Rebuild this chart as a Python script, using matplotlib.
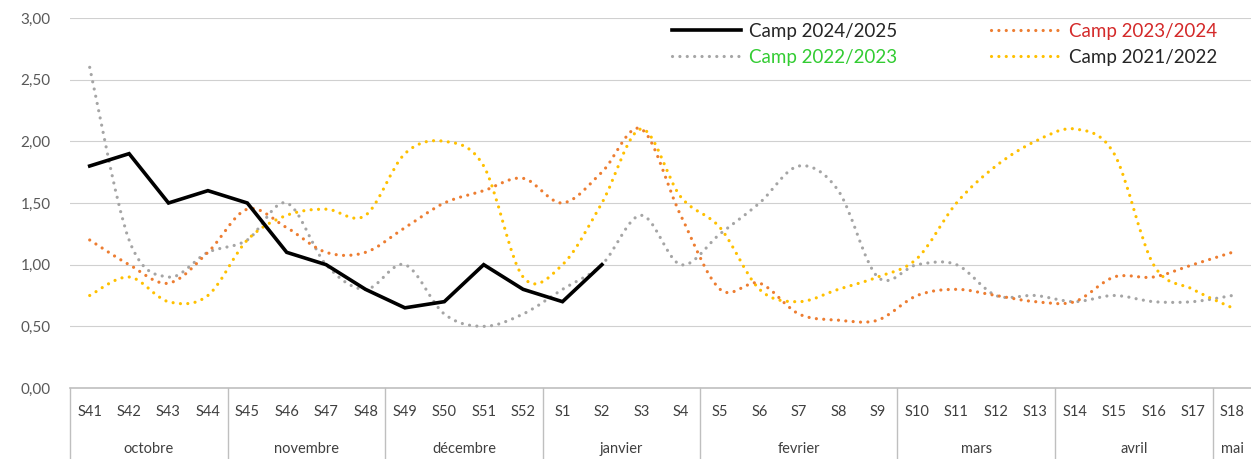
import matplotlib
matplotlib.use("Agg")
import matplotlib.pyplot as plt
from matplotlib.path import Path
from matplotlib.patches import PathPatch
from matplotlib.lines import Line2D
import numpy as np

plt.rcParams['font.family'] = ['Lato', 'DejaVu Sans']

weeks = ["S41", "S42", "S43", "S44", "S45", "S46", "S47", "S48", "S49", "S50", "S51", "S52",
         "S1", "S2", "S3", "S4", "S5", "S6", "S7", "S8", "S9", "S10", "S11", "S12", "S13",
         "S14", "S15", "S16", "S17", "S18"]
months = ["octobre", "novembre", "décembre", "janvier", "fevrier", "mars", "avril", "mai"]
month_sizes = [4, 4, 4, 4, 5, 4, 4, 1]

camp_2024_2025 = [1.80, 1.90, 1.50, 1.60, 1.50, 1.10, 1.00, 0.80, 0.65, 0.70, 1.00, 0.80, 0.70, 1.00]
camp_2023_2024 = [1.20, 1.00, 0.85, 1.10, 1.45, 1.30, 1.10, 1.10, 1.30, 1.50, 1.60, 1.70, 1.50, 1.75,
                  2.10, 1.40, 0.80, 0.85, 0.60, 0.55, 0.55, 0.75, 0.80, 0.75, 0.70, 0.70, 0.90, 0.90,
                  1.00, 1.10]
camp_2022_2023 = [2.60, 1.20, 0.90, 1.10, 1.20, 1.50, 1.00, 0.80, 1.00, 0.60, 0.50, 0.60, 0.80, 1.00,
                  1.40, 1.00, 1.25, 1.50, 1.80, 1.60, 0.90, 1.00, 1.00, 0.75, 0.75, 0.70, 0.75, 0.70,
                  0.70, 0.75]
camp_2021_2022 = [0.75, 0.90, 0.70, 0.75, 1.20, 1.40, 1.45, 1.40, 1.90, 2.00, 1.80, 0.90, 1.00, 1.50,
                  2.10, 1.55, 1.30, 0.80, 0.70, 0.80, 0.90, 1.05, 1.50, 1.80, 2.00, 2.10, 1.90, 1.00,
                  0.80, 0.65]

W, H = 1251, 459
fig = plt.figure(figsize=(W / 100, H / 100), dpi=100)
ax = fig.add_axes([70 / W, 1 - 388 / H, (1252 - 70) / W, 370 / H])

n = len(weeks)
ax.set_xlim(-0.5, n - 0.5)
ax.set_ylim(0, 3)

GREY = "#A5A5A5"
ORANGE = "#ED7D31"
YELLOW = "#FFC000"
LW_DOT = 2.3
DOT = (0, (0.01, 2.3))


def smooth_path(y):
    x = np.arange(len(y), dtype=float)
    pts = np.column_stack([x, np.asarray(y, dtype=float)])
    verts = [pts[0]]
    codes = [Path.MOVETO]
    m = len(pts)
    for i in range(m - 1):
        p0 = pts[i - 1] if i > 0 else pts[i]
        p1 = pts[i]
        p2 = pts[i + 1]
        p3 = pts[i + 2] if i + 2 < m else pts[i + 1]
        c1 = p1 + (p2 - p0) / 6.0
        c2 = p2 - (p3 - p1) / 6.0
        verts += [c1, c2, p2]
        codes += [Path.CURVE4] * 3
    return Path(np.array(verts), codes)


for data, col in [(camp_2022_2023, GREY), (camp_2021_2022, YELLOW), (camp_2023_2024, ORANGE)]:
    patch = PathPatch(smooth_path(data), fill=False, edgecolor=col, linewidth=LW_DOT,
                      linestyle=DOT, capstyle='round', zorder=3)
    ax.add_patch(patch)

ax.plot(np.arange(len(camp_2024_2025)), camp_2024_2025, color="black", linewidth=2.6,
        solid_joinstyle='miter', zorder=4)

# grid
yt = np.arange(0, 3.01, 0.5)
ax.set_yticks(yt)
ax.set_yticklabels([f"{v:.2f}".replace('.', ',') for v in yt], color="#595959", fontsize=11)
ax.tick_params(axis='y', length=0, pad=14)
for v in yt[1:]:
    ax.axhline(v, color="#D0D0D0", linewidth=0.8, zorder=1)
for s in ax.spines.values():
    s.set_visible(False)
ax.set_xticks([])

# x axis line and category boxes
trans = ax.get_xaxis_transform()
ax.plot([-0.5, n - 0.5], [0, 0], transform=trans, color="#BFBFBF", linewidth=1.2, clip_on=False)
bottom = -72 / 370
bounds = np.concatenate([[0], np.cumsum(month_sizes)]) - 0.5
for b in bounds:
    ax.plot([b, b], [0, bottom], transform=trans, color="#BFBFBF", linewidth=1.0, clip_on=False)
for i, w in enumerate(weeks):
    ax.text(i, -24 / 370, w, transform=trans, ha='center', va='center', fontsize=10.5, color="#404040")
for k, mname in enumerate(months):
    c = (bounds[k] + bounds[k + 1]) / 2
    ax.text(c, -61 / 370, mname, transform=trans, ha='center', va='center', fontsize=10.5, color="#404040")

# legend
handles = [
    Line2D([], [], color="black", linewidth=2.6),
    Line2D([], [], color=GREY, linewidth=LW_DOT, linestyle=DOT, dash_capstyle='round'),
    Line2D([], [], color=ORANGE, linewidth=LW_DOT, linestyle=DOT, dash_capstyle='round'),
    Line2D([], [], color=YELLOW, linewidth=LW_DOT, linestyle=DOT, dash_capstyle='round'),
]
labels = ["Camp 2024/2025", "Camp 2022/2023", "Camp 2023/2024", "Camp 2021/2022"]
text_colors = ["#262626", "#33CC33", "#D42A2A", "#262626"]
leg = ax.legend(handles, labels, ncol=2, loc='upper left', bbox_to_anchor=(602 / 1182, 0.9876),
                frameon=False, fontsize=13.5, handlelength=3.7, columnspacing=5.0,
                handletextpad=0.43, labelspacing=0.49, borderpad=0, borderaxespad=0)
for t, c in zip(leg.get_texts(), text_colors):
    t.set_color(c)

fig.savefig("out.png", dpi=100)
